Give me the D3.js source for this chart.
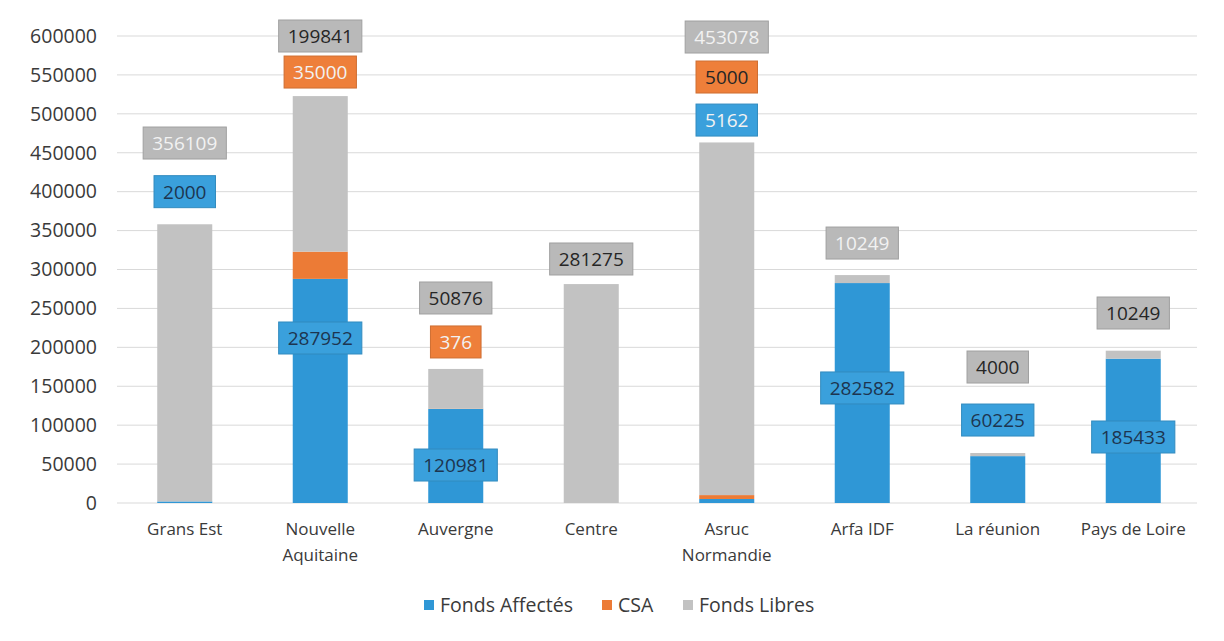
<!DOCTYPE html>
<html>
<head>
<meta charset="utf-8">
<script src="https://cdn.jsdelivr.net/npm/d3@7"></script>
<style>
  body { margin: 0; background: #fff; }
  svg { display: block; font-family: "Open Sans", sans-serif; }
</style>
</head>
<body>
<div id="chart"></div>
<script>
// categories and series
var categories = ["Grans Est", "Nouvelle Aquitaine", "Auvergne", "Centre", "Asruc Normandie", "Arfa IDF", "La réunion", "Pays de Loire"];
var fondsAffectes = [2000, 287952, 120981, 0, 5162, 282582, 60225, 185433];
var csa = [0, 35000, 376, 0, 5000, 0, 0, 0];
var fondsLibres = [356109, 199841, 50876, 281275, 453078, 10249, 4000, 10249];
var seriesNames = ["Fonds Affectés", "CSA", "Fonds Libres"];
var yTicks = [0, 50000, 100000, 150000, 200000, 250000, 300000, 350000, 400000, 450000, 500000, 550000, 600000];

// where each data label box was dragged to (value on the y axis), null = no label
var labelAtAffectes = [400000, 212000, 48800, null, 492000, 147800, 106600, 84800];
var labelAtCsa = [null, 553700, 206900, null, 547300, null, null, null];
var labelAtLibres = [462500, 600000, 263400, 313500, 598700, 334000, 174700, 244100];
// labels drawn with pale text
var paleAffectes = [false, false, false, false, true, false, false, false];
var paleCsa = [false, true, true, false, false, false, false, false];
var paleLibres = [true, false, false, false, true, true, false, false];

var colors = ["#2f97d6", "#ec7b36", "#c2c2c2"];
var boxColors = ["#3aa0dc", "#ee7f3a", "#b9b9b9"];

var W = 1224, H = 641;
var x = d3.scaleBand().domain(categories).range([117, 1201]).paddingInner(0.594).paddingOuter(0.297);
var y = d3.scaleLinear().domain([0, 600000]).range([503, 36]);

var svg = d3.select("#chart").append("svg").attr("width", W).attr("height", H);

// gridlines
svg.append("g")
    .selectAll("line")
    .data(yTicks)
  .enter().append("line")
    .attr("x1", 117).attr("x2", 1197)
    .attr("y1", function(d) { return y(d); })
    .attr("y2", function(d) { return y(d); })
    .attr("stroke", "#d9d9d9")
    .attr("stroke-width", 1);

// y axis labels
var yAxis = d3.axisLeft(y).tickValues(yTicks).tickFormat(d3.format("d")).tickSize(0).tickPadding(20);
var ya = svg.append("g").attr("transform", "translate(117,0)").call(yAxis);
ya.select(".domain").remove();
ya.selectAll("text").attr("font-size", 19.5).attr("fill", "#3a3a3a").attr("font-family", "Open Sans");

// stacked data
var rows = categories.map(function(c, i) {
  return { cat: c, a: fondsAffectes[i], c: csa[i], l: fondsLibres[i] };
});
var stack = d3.stack().keys(["a", "c", "l"])(rows);

svg.append("g").selectAll("g")
    .data(stack)
  .enter().append("g")
    .attr("fill", function(d, i) { return colors[i]; })
  .selectAll("rect")
    .data(function(d) { return d; })
  .enter().append("rect")
    .attr("x", function(d) { return x(d.data.cat); })
    .attr("width", x.bandwidth())
    .attr("y", function(d) { return y(d[1]); })
    .attr("height", function(d) { return y(d[0]) - y(d[1]); });

// bottom axis labels
var xa = svg.append("g").attr("transform", "translate(0,503)").call(d3.axisBottom(x).tickSize(0).tickPadding(20));
xa.select(".domain").remove();
xa.selectAll("text")
    .attr("font-size", 17).attr("fill", "#3a3a3a").attr("font-family", "Open Sans")
    .each(function(d) {
      var t = d3.select(this);
      if (this.getComputedTextLength() > 128) {
        var words = d.split(" ");
        t.text(null);
        words.forEach(function(w, k) {
          t.append("tspan").attr("x", 0).attr("dy", k === 0 ? "0.71em" : "1.5em").text(w);
        });
        t.attr("dy", null);
      }
    });

// data labels with filled boxes
var labelSets = [
  { vals: fondsAffectes, at: labelAtAffectes, pale: paleAffectes },
  { vals: csa, at: labelAtCsa, pale: paleCsa },
  { vals: fondsLibres, at: labelAtLibres, pale: paleLibres }
];
var labels = [];
labelSets.forEach(function(s, si) {
  categories.forEach(function(c, i) {
    if (s.at[i] !== null && s.vals[i] > 0) {
      labels.push({ cat: c, v: s.vals[i], at: s.at[i], si: si, pale: s.pale[i] });
    }
  });
});

var lg = svg.append("g").selectAll("g")
    .data(labels)
  .enter().append("g")
    .attr("transform", function(d) {
      return "translate(" + (x(d.cat) + x.bandwidth() / 2) + "," + y(d.at) + ")";
    });
lg.append("rect").attr("class", "box");
lg.append("text")
    .attr("text-anchor", "middle")
    .attr("dy", "0.36em")
    .attr("font-size", 19)
    .attr("fill", function(d) { return d.pale ? "#f2f2f2" : (d.si === 0 ? "#1d3550" : "#262626"); })
    .text(function(d) { return d.v; });
lg.each(function() {
  var g = d3.select(this);
  var w = g.select("text").node().getComputedTextLength() + 18;
  g.select("rect")
      .attr("x", -w / 2).attr("y", -16)
      .attr("width", w).attr("height", 32)
      .attr("fill", function(d) { return boxColors[d.si]; })
      .attr("stroke", function(d) { return d3.color(boxColors[d.si]).darker(0.4); })
      .attr("stroke-width", 1);
});

// legend
var legend = svg.append("g").attr("transform", "translate(0,605)");
var lx = [424, 602, 683];
seriesNames.forEach(function(n, i) {
  legend.append("rect").attr("x", lx[i]).attr("y", -5).attr("width", 10).attr("height", 10).attr("fill", colors[i]);
  legend.append("text").attr("x", lx[i] + 16).attr("dy", "0.36em")
      .attr("font-size", 19.5).attr("fill", "#3a3a3a").text(n);
});
</script>
</body>
</html>
